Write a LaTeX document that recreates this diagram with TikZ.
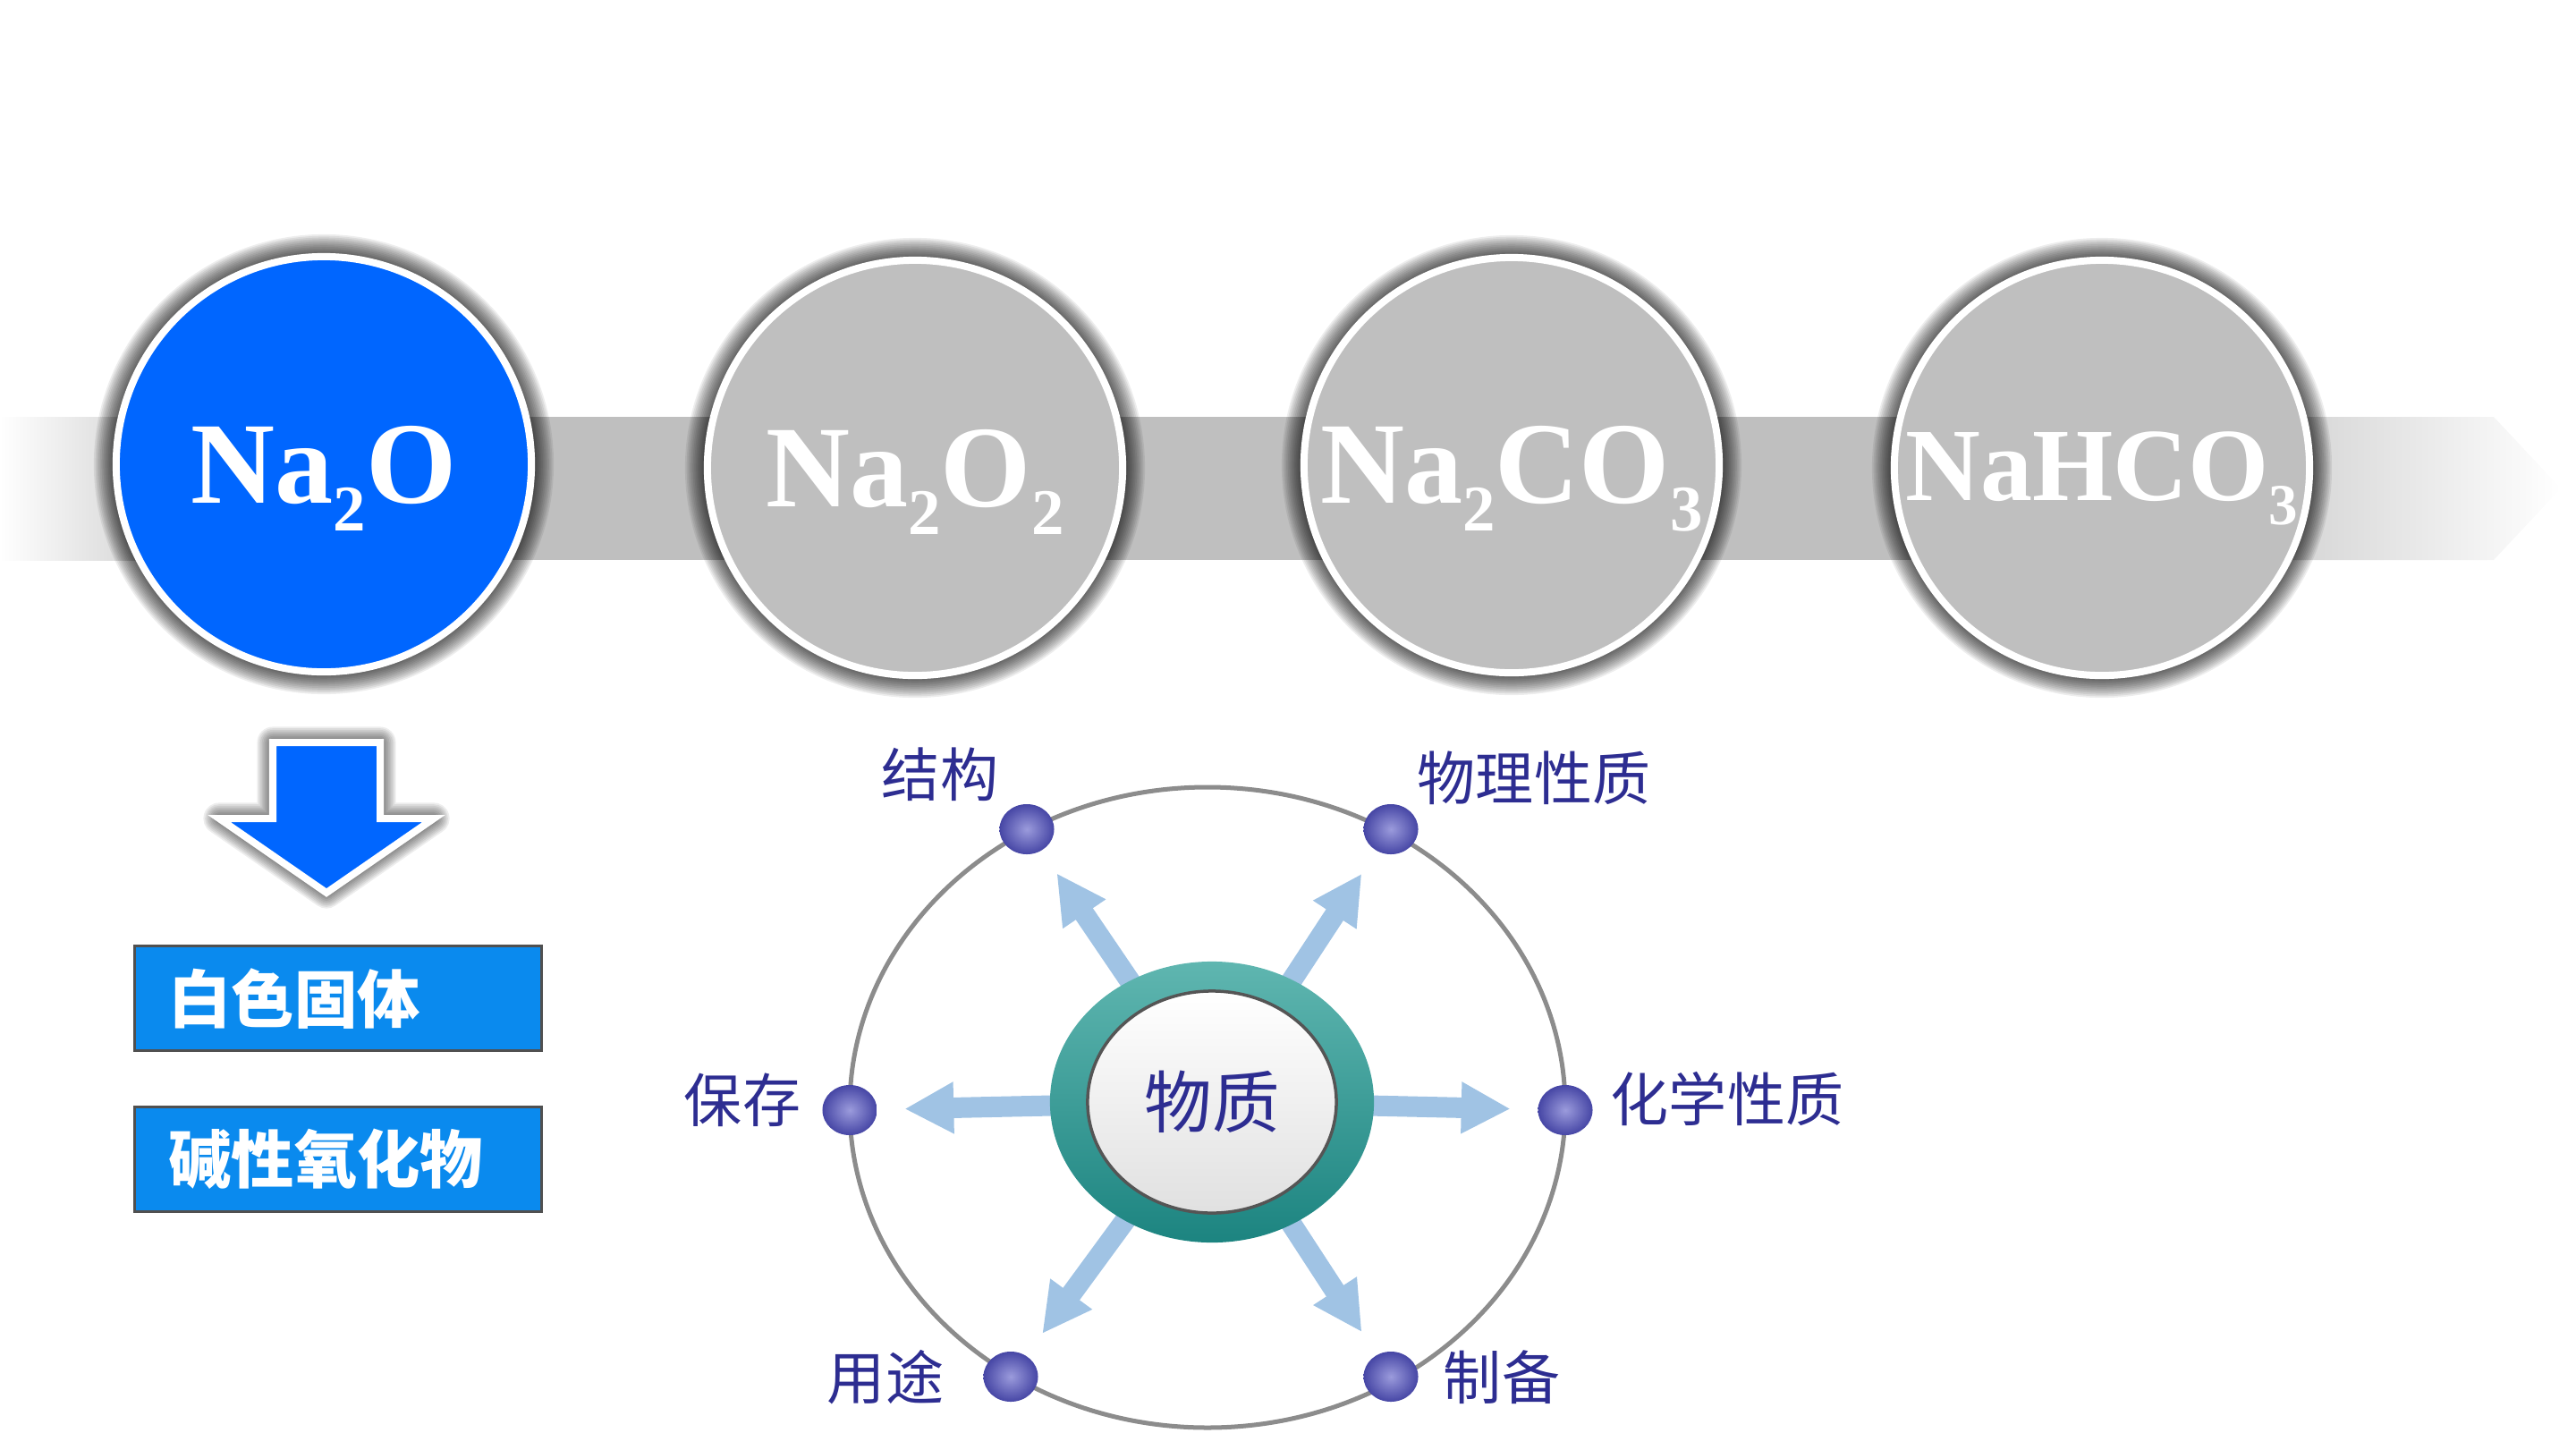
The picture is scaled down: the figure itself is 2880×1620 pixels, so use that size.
\documentclass[tikz,border=0pt]{standalone}
\usepackage{graphicx}
\usepackage{fontspec}
\setmainfont{Liberation Serif}
\newfontfamily\cjk{Noto Sans CJK SC}
\usetikzlibrary{arrows.meta,shapes.geometric}
\definecolor{naBlue}{RGB}{0,102,255}
\definecolor{discGray}{RGB}{191,191,191}
\definecolor{boxBlue}{RGB}{10,138,238}
\definecolor{boxEdge}{RGB}{80,80,80}
\definecolor{spokeBlue}{RGB}{160,195,228}
\definecolor{labelNavy}{RGB}{45,45,145}
\definecolor{orbitGray}{RGB}{140,140,140}
\definecolor{tealDark}{RGB}{28,132,128}
\definecolor{tealLight}{RGB}{95,182,176}
\definecolor{beadDark}{RGB}{70,70,165}
\definecolor{beadLight}{RGB}{155,155,220}
\newcommand{\chsub}[1]{\raisebox{-0.24em}{\scalebox{0.56}{#1}}}

\begin{document}
\begin{tikzpicture}[x=0.01cm,y=-0.01cm]
        \tikzstyle{disc}=[circle,draw=white,line width=0.08cm,minimum size=4.64cm,inner sep=0pt]
        \tikzstyle{formula}=[anchor=base,text=white,inner sep=0pt,font=\bfseries\fontsize{37}{37}\selectfont]
        \tikzstyle{fact}=[rectangle,draw=boxEdge,line width=0.03cm,fill=boxBlue,text=white,text width=3.79cm,inner xsep=0.38cm,minimum height=1.17cm,align=left,anchor=north west,font=\cjk\bfseries\fontsize{20}{20}\selectfont]
        \tikzstyle{spoke}=[spokeBlue,line width=0.23cm,-{Triangle[width=0.54cm,length=0.55cm]},shorten >=0.3cm]
        \tikzstyle{bead}=[ellipse,minimum width=0.61cm,minimum height=0.56cm,inner sep=0pt,inner color=beadLight,outer color=beadDark]
        \tikzstyle{tag}=[text=labelNavy,inner sep=0pt,font=\cjk\fontsize{18.5}{18.5}\selectfont]
        \tikzstyle{blur}=[black,opacity=.07,line join=round]
        \useasboundingbox (0,0) rectangle (2880,1620);
        % band behind the discs
        \shade[left color=white,right color=discGray] (0,466) rectangle (250,626);
        \fill[discGray] (249,466) rectangle (2401,626);
        \shade[left color=discGray,right color=white] (2400,466) -- (2788,466) -- (2863,546) -- (2788,626) -- (2400,626) -- cycle;
        % discs
        \foreach \x/\y/\col/\name in {362/519/naBlue/c1, 1023/523/discGray/c2, 1690/520/discGray/c3, 2350/523/discGray/c4}{
            \foreach \w in {1,...,12} \draw[blur,line width=\w pt] (\x,\y) circle (236);
            \node[disc,fill=\col] (\name) at (\x,\y) {};
        }
        \node[formula] (f1) at ([yshift=-0.43cm]c1.center) {Na\chsub{2}O};
        \node[formula] (f2) at ([yshift=-0.43cm]c2.center) {Na\chsub{2}O\chsub{2}};
        \node[formula] (f3) at ([yshift=-0.42cm]c3.center) {Na\chsub{2}CO\chsub{3}};
        \node[formula,font=\bfseries\fontsize{33}{33}\selectfont] (f4) at ([yshift=-0.36cm]c4.center) {NaHCO\chsub{3}};
        % down arrow
        \foreach \w in {1,...,10} \draw[blur,line width=\w pt] (305,830) -- (425,830) -- (425,915) -- (485,915) -- (365,998) -- (245,915) -- (305,915) -- cycle;
        \filldraw[fill=naBlue,draw=white,line width=0.08cm] (305,830) -- (425,830) -- (425,915) -- (485,915) -- (365,998) -- (245,915) -- (305,915) -- cycle;
        \node[fact] (b1) at (149,1056) {白色固体};
        \node[fact] (b2) at (149,1236) {碱性氧化物};
        % orbit with beads
        \draw[orbitGray,line width=0.05cm] (1350,1238) ellipse (400 and 358);
        \node[bead] (d1) at (1148,927) {};
        \node[bead] (d2) at (1555,927) {};
        \node[bead] (d3) at (950,1241) {};
        \node[bead] (d4) at (1750,1241) {};
        \node[bead] (d5) at (1130,1539) {};
        \node[bead] (d6) at (1555,1539) {};
        \node[tag] (l1) at (1051,866) {结构};
        \node[tag] (l2) at (1715,870) {物理性质};
        \node[tag] (l3) at (830,1230) {保存};
        \node[tag] (l4) at (1931,1228) {化学性质};
        \node[tag] (l5) at (990,1540) {用途};
        \node[tag] (l6) at (1679,1540) {制备};
        \coordinate (hub) at (1355,1232);
        \foreach \d in {d1,d2,d3,d4,d5,d6} \draw[spoke] (hub) -- (\d);
        \node[ellipse,minimum width=3.62cm,minimum height=3.14cm,top color=tealLight,bottom color=tealDark] (ring) at (hub) {};
        \node[ellipse,minimum width=2.78cm,minimum height=2.48cm,draw={rgb,255:red,85;green,85;blue,85},line width=0.035cm,top color=white,bottom color=black!12,text=labelNavy,font=\cjk\fontsize{21.5}{21.5}\selectfont] (core) at (hub) {物质};
\end{tikzpicture}
\end{document}
